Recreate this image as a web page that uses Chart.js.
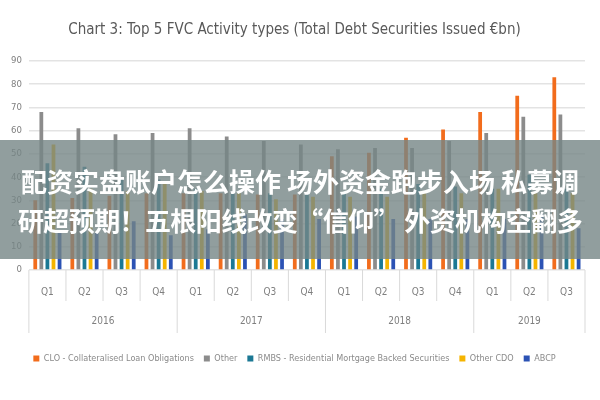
<!DOCTYPE html>
<html lang="zh">
<head>
<meta charset="utf-8">
<script src="https://cdn.jsdelivr.net/npm/chart.js@4"></script>
<style>
  body { margin: 0; background: #fff; }
  #wrap { position: relative; width: 600px; height: 400px; }
  #banner {
    position: absolute; left: 0; top: 140px; width: 600px; height: 119px;
    background: rgba(118, 134, 134, 0.8);
    display: flex; flex-direction: column; justify-content: center; align-items: center;
    color: #fff; font-family: "Noto Sans CJK SC", sans-serif; font-weight: bold;
    font-size: 26px; line-height: 39px; white-space: nowrap;
  }
  #banner .l2 { letter-spacing: -0.6px; }
</style>
</head>
<body>
<div id="wrap">
  <canvas id="chart" width="600" height="400"></canvas>
  <div id="banner">
    <div>配资实盘账户怎么操作 场外资金跑步入场 私募调</div>
    <div class="l2">研超预期！五根阳线改变“信仰” 外资机构空翻多</div>
  </div>
</div>
<script>
// Quarters and the year each belongs to
const quarters = ['Q1', 'Q2', 'Q3', 'Q4', 'Q1', 'Q2', 'Q3', 'Q4', 'Q1', 'Q2', 'Q3', 'Q4', 'Q1', 'Q2', 'Q3'];
const years = ['2016', '2017', '2018', '2019'];
const quartersPerYear = [4, 4, 4, 3];

// Debt securities issued, EUR bn
const cloValues = [30, 31, 32, 33, 33, 33, 32.5, 32.5, 49, 50.5, 57, 60.5, 68, 75, 83];
const otherValues = [68, 61, 58.5, 59, 61, 57.5, 55.5, 54, 52, 52.5, 52.5, 55.5, 59, 66, 67];
const rmbsValues = [46, 44.5, 39.5, 39, 35, 33, 33, 33, 33, 35, 37, 36, 35, 41, 35];
const otherCdoValues = [54, 35, 34, 37.5, 34, 33, 30.5, 31.5, 31.5, 31.5, 33, 33, 35, 33, 33];
const abcpValues = [16, 16, 21, 15, 17.5, 24, 22, 22, 23, 22, 22, 22, 22, 24, 18];

const yTicks = [0, 10, 20, 30, 40, 50, 60, 70, 80, 90];

const font = '"DejaVu Sans Condensed", "Liberation Sans Narrow", sans-serif';

// Draws the quarter/year separators and year labels under the x axis
const yearAxis = {
  id: 'yearAxis',
  afterDraw(chart) {
    const ctx = chart.ctx;
    const x = chart.scales.x;
    const bottom = chart.chartArea.bottom;
    const half = (x.getPixelForValue(1) - x.getPixelForValue(0)) / 2;
    ctx.save();
    ctx.strokeStyle = '#d9d9d9';
    ctx.lineWidth = 1;
    let start = 0;
    for (let i = 0; i <= quarters.length; i++) {
      const px = (i < quarters.length ? x.getPixelForValue(i) : x.getPixelForValue(i - 1) + 2 * half) - half;
      let isYear = false, acc = 0;
      for (const n of [0, ...quartersPerYear]) { acc += n; if (acc === i) isYear = true; }
      ctx.beginPath();
      ctx.moveTo(px, bottom);
      ctx.lineTo(px, bottom + (isYear ? 63 : 31));
      ctx.stroke();
    }
    ctx.fillStyle = '#7f7f7f';
    ctx.font = '10px ' + font;
    ctx.textAlign = 'center';
    ctx.textBaseline = 'middle';
    years.forEach((yr, k) => {
      const a = x.getPixelForValue(start);
      const b = x.getPixelForValue(start + quartersPerYear[k] - 1);
      ctx.fillText(yr, (a + b) / 2, bottom + 51);
      start += quartersPerYear[k];
    });
    ctx.restore();
  }
};

function series(label, data, color) {
  return {
    label: label,
    data: data,
    backgroundColor: color,
    borderWidth: 0,
    categoryPercentage: 0.82,
    barPercentage: 0.62
  };
}

new Chart(document.getElementById('chart').getContext('2d'), {
  type: 'bar',
  data: {
    labels: quarters,
    datasets: [
      series('CLO - Collateralised Loan Obligations', cloValues, '#f26c1c'),
      series('Other', otherValues, '#8c8c8c'),
      series('RMBS - Residential Mortgage Backed Securities', rmbsValues, '#1b7894'),
      series('Other CDO', otherCdoValues, '#f5b400'),
      series('ABCP', abcpValues, '#2b52b4')
    ]
  },
  options: {
    responsive: false,
    animation: false,
    layout: { padding: { left: 4, right: 15, bottom: 27 } },
    plugins: {
      title: {
        display: true,
        text: 'Chart 3: Top 5 FVC Activity types (Total Debt Securities Issued €bn)',
        color: '#595959',
        font: { family: font, size: 15, weight: 'normal' },
        padding: { top: 21, bottom: 22 }
      },
      legend: {
        position: 'bottom',
        labels: {
          boxWidth: 6,
          boxHeight: 6,
          color: '#8a8a8a',
          font: { family: font, size: 9 },
          padding: 10
        }
      },
      tooltip: { enabled: false }
    },
    scales: {
      x: {
        grid: { display: false },
        border: { display: false },
        ticks: { color: '#7f7f7f', font: { family: font, size: 10 }, padding: 8 },
        afterFit(scale) { scale.height = 74; }
      },
      y: {
        min: 0,
        max: 90,
        afterBuildTicks(scale) { scale.ticks = yTicks.map(v => ({ value: v })); },
        grid: { color: '#e3e3e3', lineWidth: 1.5, drawTicks: false },
        border: { display: false },
        ticks: { color: '#7f7f7f', font: { family: font, size: 9.5 }, padding: 7 }
      }
    }
  },
  plugins: [yearAxis]
});
</script>
</body>
</html>
